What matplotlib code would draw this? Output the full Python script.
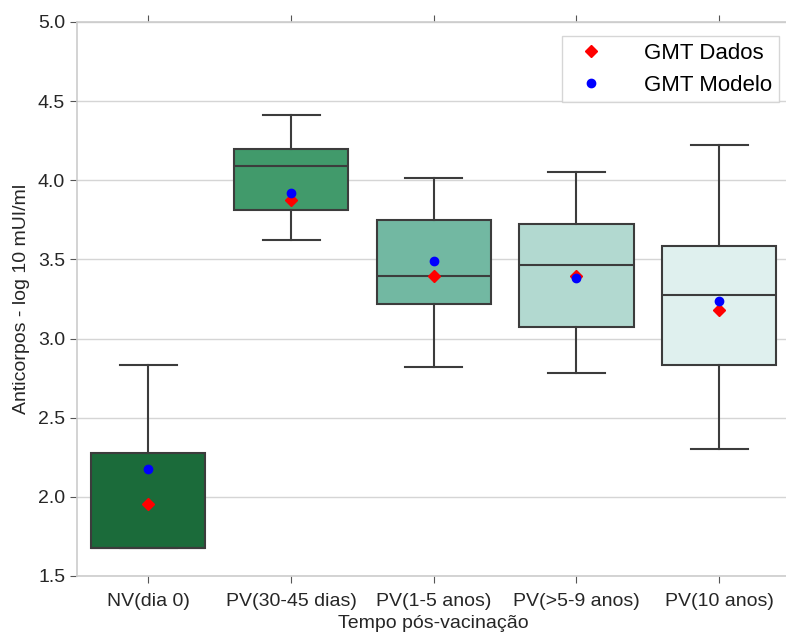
import matplotlib
matplotlib.use('Agg')
import matplotlib.pyplot as plt
import numpy as np

plt.rcParams['font.family'] = ['Liberation Sans', 'DejaVu Sans']

## dados
grupos = ['NV(dia 0)', 'PV(30-45 dias)', 'PV(1-5 anos)', 'PV(>5-9 anos)', 'PV(10 anos)']
whis_low = [1.68, 3.62, 2.82, 2.78, 2.30]
q1 = [1.68, 3.81, 3.22, 3.07, 2.83]
mediana = [1.68, 4.09, 3.395, 3.465, 3.275]
q3 = [2.275, 4.20, 3.75, 3.725, 3.585]
whis_high = [2.835, 4.415, 4.015, 4.055, 4.225]
gmt_dados = [1.955, 3.875, 3.395, 3.395, 3.18]
gmt_modelo = [2.175, 3.92, 3.49, 3.38, 3.235]
cores = ['#1b6b3a', '#419a6b', '#72b8a2', '#b2d9d0', '#dff0ee']

fig = plt.figure(figsize=(7.86, 6.32), dpi=100)
ax = fig.add_axes([77/786, 1-576/632, 713.5/786, 554/632])

stats = []
for i in range(len(grupos)):
    stats.append({'whislo': whis_low[i], 'q1': q1[i], 'med': mediana[i],
                  'q3': q3[i], 'whishi': whis_high[i], 'fliers': []})

lc = '#3c3c3c'
bp = ax.bxp(stats, positions=np.arange(len(grupos)), widths=0.8, patch_artist=True,
            showfliers=False,
            boxprops=dict(edgecolor=lc, linewidth=1.5),
            medianprops=dict(color=lc, linewidth=1.5),
            whiskerprops=dict(color=lc, linewidth=1.5),
            capprops=dict(color=lc, linewidth=1.5))
for patch, c in zip(bp['boxes'], cores):
    patch.set_facecolor(c)

x = np.arange(len(grupos))
ax.plot(x, gmt_dados, linestyle='none', marker='D', color='red', markersize=6, label='GMT Dados', zorder=5)
ax.plot(x, gmt_modelo, linestyle='none', marker='o', color='blue', markersize=6, label='GMT Modelo', zorder=5)

ax.set_xlim(-0.5, 4.5)
ax.set_ylim(1.5, 5.0)
ax.set_yticks(np.arange(1.5, 5.01, 0.5))
ax.set_xticks(x)
ax.set_xticklabels(grupos, fontsize=14)
ax.tick_params(axis='y', labelsize=14)
ax.tick_params(axis='both', direction='out', length=5, color='#555555', labelcolor='#262626')
ax.tick_params(axis='x', top=True, pad=7)
ax.yaxis.grid(True, color='#d5d5d5', linewidth=1)
ax.set_axisbelow(True)
for s in ax.spines.values():
    s.set_color('#cccccc')
    s.set_linewidth(1.2)

ax.set_xlabel('Tempo pós-vacinação', fontsize=14, color='#262626', labelpad=4)
ax.set_ylabel('Anticorpos - log 10 mUI/ml', fontsize=14, color='#262626', labelpad=6)

leg = ax.legend(loc='upper right', fontsize=16, numpoints=1, frameon=True, fancybox=False,
                borderpad=0.3, handletextpad=1.4, labelspacing=0.5, borderaxespad=0,
                bbox_to_anchor=(0.984, 0.975))
leg.get_frame().set_edgecolor('#cccccc')

fig.savefig('out.png', dpi=100)
